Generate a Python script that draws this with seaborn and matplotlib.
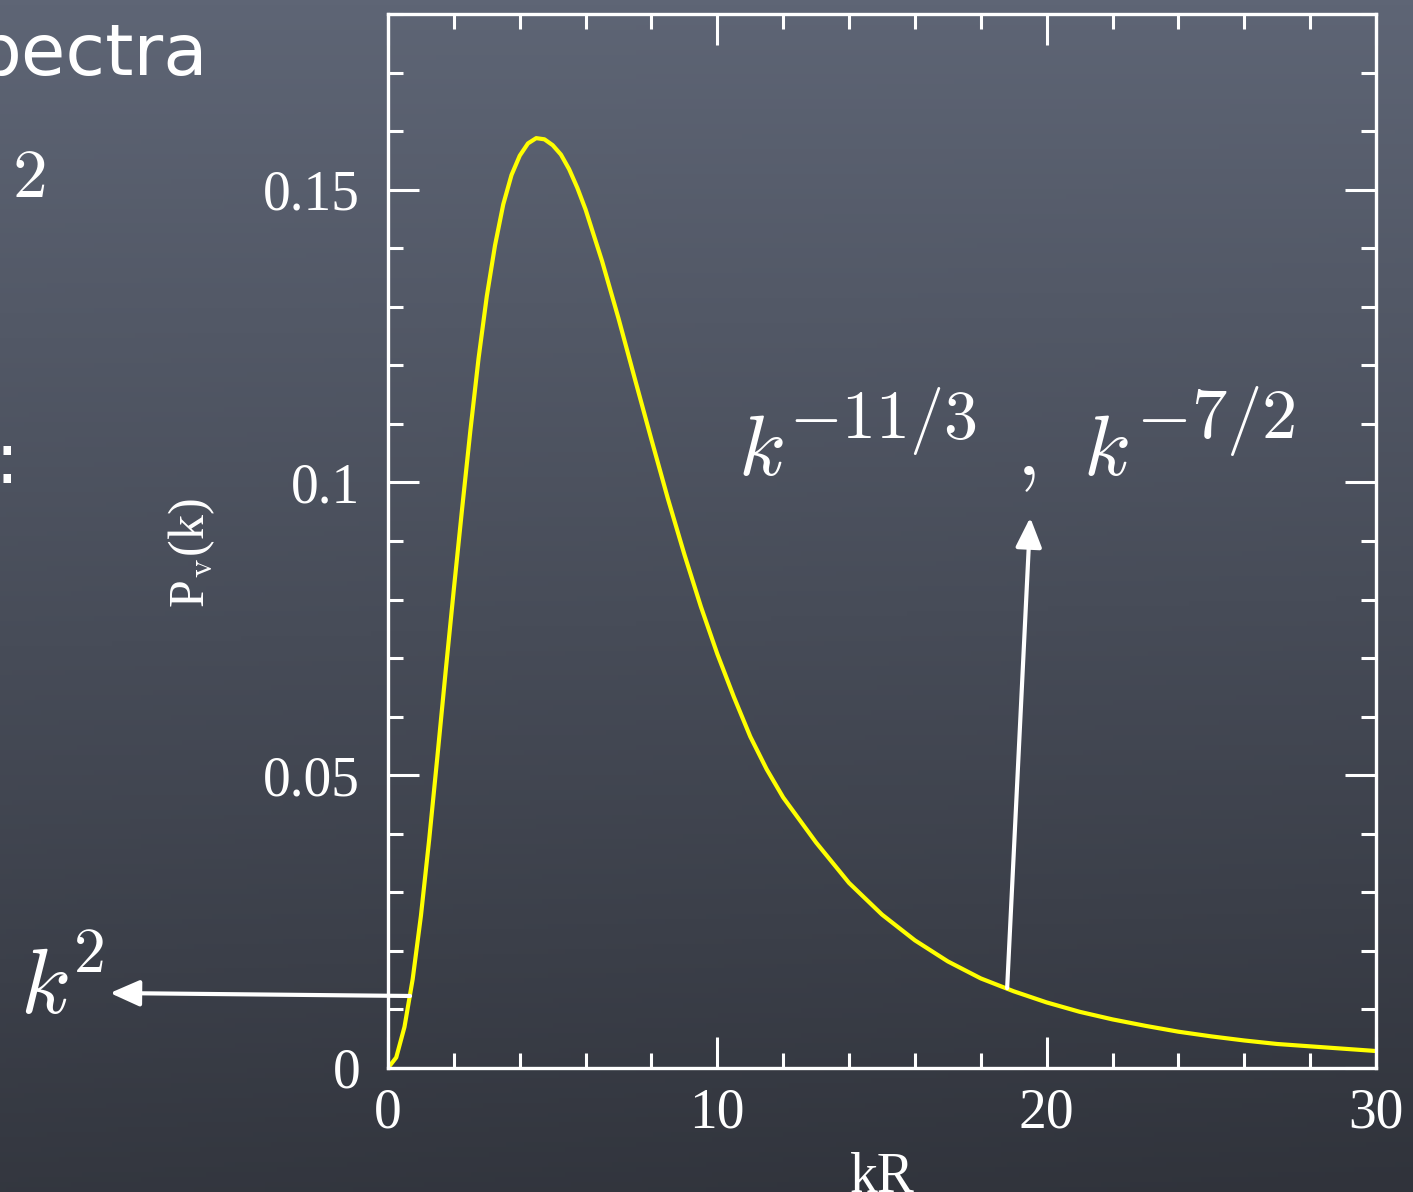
import numpy as np
import matplotlib
matplotlib.use("Agg")
import matplotlib.pyplot as plt
from matplotlib.ticker import MultipleLocator, FixedLocator, FixedFormatter
import seaborn as sns

# ---- data ----
kR = [0.0, 0.25, 0.5, 0.75, 1.0, 1.25, 1.5, 1.75, 2.0, 2.25, 2.5, 2.75, 3.0,
      3.25, 3.5, 3.75, 4.0, 4.25, 4.5, 4.75, 5.0, 5.25, 5.5, 5.75, 6.0, 6.5,
      7.0, 7.5, 8.0, 8.5, 9.0, 9.5, 10.0, 10.5, 11.0, 11.5, 12.0, 13.0, 14.0,
      15.0, 16.0, 17.0, 18.0, 19.0, 20.0, 21.0, 22.0, 23.0, 24.0, 25.0, 26.0,
      27.0, 28.0, 29.0, 30.0]
Pv = [0.0, 0.0018, 0.0070, 0.0152, 0.0260, 0.0390, 0.0532, 0.0677, 0.0818,
      0.0955, 0.1088, 0.1212, 0.1318, 0.1405, 0.1475, 0.1525, 0.1558, 0.1579,
      0.1588, 0.1586, 0.1576, 0.1560, 0.1535, 0.1503, 0.1466, 0.1378, 0.1280,
      0.1176, 0.1073, 0.0972, 0.0877, 0.0788, 0.0707, 0.0634, 0.0566, 0.0510,
      0.0462, 0.0385, 0.0316, 0.0262, 0.0218, 0.0182, 0.0153, 0.0131, 0.0112,
      0.0096, 0.0083, 0.0072, 0.0062, 0.0054, 0.0047, 0.0041, 0.0037, 0.0033,
      0.0029]
x_ticks = [0, 10, 20, 30]
x_tick_labels = ["0", "10", "20", "30"]
y_ticks = [0, 0.05, 0.1, 0.15]
y_tick_labels = ["0", "0.05", "0.1", "0.15"]
x_label = "kR"
y_label = r"P$_\mathrm{v}$(k)"

sns.set_style("ticks")
plt.rcParams["font.family"] = ["Liberation Serif", "DejaVu Serif"]
plt.rcParams["mathtext.fontset"] = "cm"

W, H = 1413, 1192
fig = plt.figure(figsize=(W / 100, H / 100), dpi=100)

# chalkboard background
bg = fig.add_axes([0, 0, 1, 1], zorder=0)
ny, nx = 240, 240
yy = np.linspace(0, 1, ny)[:, None]
xx = np.linspace(0, 1, nx)[None, :]
t = np.clip(yy * 0.92 + 0.08 * xx * yy, 0, 1)
top = np.array([0x5e, 0x65, 0x75]) / 255
bot = np.array([0x30, 0x33, 0x3b]) / 255
img = top[None, None, :] * (1 - t)[..., None] + bot[None, None, :] * t[..., None]
bg.imshow(img, aspect="auto", extent=[0, 1, 0, 1], origin="upper")
bg.set_axis_off()

def fx(px):
    return px / W

def fy(py):
    return 1 - py / H

ax = fig.add_axes([fx(388), fy(1068), fx(1376) - fx(388), fy(14) - fy(1068)], zorder=1)
ax.patch.set_alpha(0)

sns.lineplot(x=kR, y=Pv, ax=ax, color="#ffff00", lw=3.0)

ax.set_xlim(0, 30)
ax.set_ylim(0, 0.18)
ax.xaxis.set_major_locator(FixedLocator(x_ticks))
ax.xaxis.set_major_formatter(FixedFormatter(x_tick_labels))
ax.yaxis.set_major_locator(FixedLocator(y_ticks))
ax.yaxis.set_major_formatter(FixedFormatter(y_tick_labels))
ax.xaxis.set_minor_locator(MultipleLocator(2))
ax.yaxis.set_minor_locator(MultipleLocator(0.01))

for s in ax.spines.values():
    s.set_color("white")
    s.set_linewidth(2.4)
    s.set_visible(True)

ax.tick_params(which="both", direction="in", top=True, right=True,
               color="white", width=2.2, labelcolor="white", labelsize=40)
ax.tick_params(which="major", length=22)
ax.tick_params(which="minor", length=11)
ax.tick_params(axis="x", which="major", pad=14)
ax.tick_params(axis="y", which="major", pad=20)

ax.set_xlabel(x_label, color="white", fontsize=40)
ax.set_ylabel(y_label, color="white", fontsize=36)
ax.xaxis.set_label_coords(0.5, -0.08)
ax.yaxis.set_label_coords(-0.173, 0.489)

# slide text fragments outside the plot
fig.text(fx(-24), fy(75), "pectra", color="white", fontsize=52,
         family="DejaVu Sans", ha="left", va="baseline")
fig.text(fx(12), fy(197), r"$2$", color="white", fontsize=50,
         ha="left", va="baseline")
fig.text(fx(7), fy(483), ":", color="white", fontsize=52,
         family="DejaVu Sans", ha="center", va="baseline")

# annotations
fig.text(fx(20), fy(1013), r"$k$", color="white", fontsize=66,
         ha="left", va="baseline")
fig.text(fx(73), fy(972), r"$2$", color="white", fontsize=46,
         ha="left", va="baseline")

fig.text(fx(738), fy(475), r"$k$", color="white", fontsize=62,
         ha="left", va="baseline")
fig.text(fx(789), fy(438), r"$-11/3$", color="white", fontsize=49,
         ha="left", va="baseline")
fig.text(fx(1016), fy(475), r"$,$", color="white", fontsize=62,
         ha="left", va="baseline")
fig.text(fx(1083), fy(475), r"$k$", color="white", fontsize=62,
         ha="left", va="baseline")
fig.text(fx(1136), fy(438), r"$-7/2$", color="white", fontsize=51,
         ha="left", va="baseline")

arrow_style = "-|>,head_length=0.9,head_width=0.4"
ax.annotate("", xy=(fx(110), fy(993)), xycoords="figure fraction",
            xytext=(0.67, 0.0123), textcoords="data",
            arrowprops=dict(arrowstyle=arrow_style, color="white", lw=3,
                            mutation_scale=20, shrinkA=0, shrinkB=0),
            annotation_clip=False)
ax.annotate("", xy=(19.5, 0.094), xycoords="data",
            xytext=(18.8, 0.01365), textcoords="data",
            arrowprops=dict(arrowstyle=arrow_style, color="white", lw=3,
                            mutation_scale=20, shrinkA=0, shrinkB=0),
            annotation_clip=False)

fig.savefig("out.png", dpi=100)
